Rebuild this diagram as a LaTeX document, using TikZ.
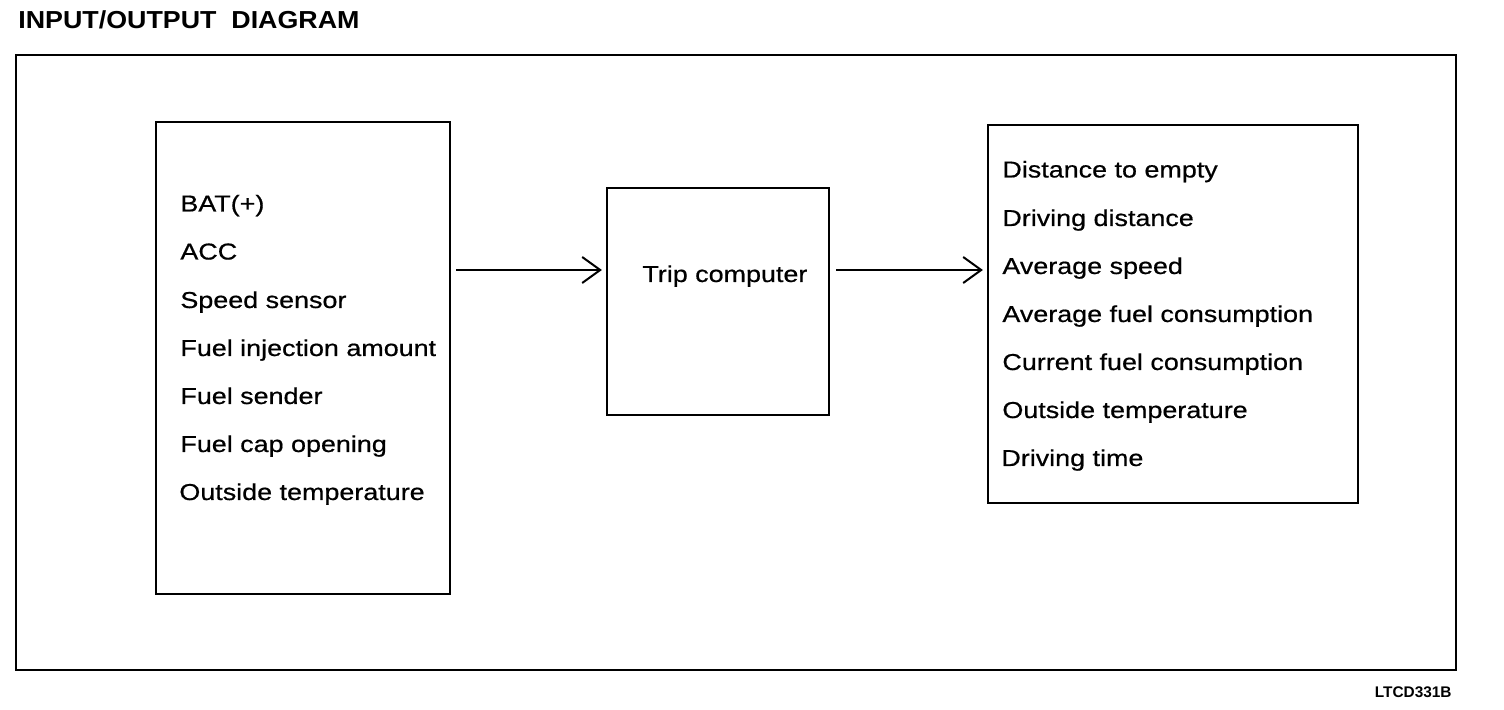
\documentclass[tikz,border=0pt]{standalone}
\usepackage{fontspec}
\setmainfont[FakeStretch=1.17,FakeBold=0.6]{Liberation Sans}
\newfontfamily\plainsans{Liberation Sans}
\newfontfamily\titlesans[FakeStretch=1.09]{Liberation Sans}
\usetikzlibrary{arrows.meta}
\begin{document}
\begin{tikzpicture}[x=0.5pt,y=-0.5pt,
  frame/.style={draw, line width=1.1pt, inner sep=0pt},
  lbl/.style={anchor=base west, inner sep=0pt, font=\fontsize{11.5pt}{13pt}\selectfont},
  arr/.style={line width=1pt, -{Straight Barb[length=9pt,width=13pt,line width=1pt]}}]
\useasboundingbox (0,0) rectangle (1504,710);
\node[anchor=base west, inner sep=0pt, font=\titlesans\fontsize{12.3pt}{14pt}\selectfont\bfseries] (title) at (18,29) {INPUT/OUTPUT\ \ DIAGRAM};
\node[frame, minimum width=720pt, minimum height=307.5pt] (outer) at (736,362.5) {};
\node[frame, minimum width=147pt, minimum height=236pt] (inbox) at (303,358) {};
\node[frame, minimum width=111pt, minimum height=113.5pt] (mid) at (718,301.5) {};
\node[frame, minimum width=185pt, minimum height=189pt] (outbox) at (1173,314) {};
% input list
\node[lbl] (i1) at (180,211.5) {BAT(+)};
\node[lbl] (i2) at (180,259.5) {ACC};
\node[lbl] (i3) at (180,308) {Speed sensor};
\node[lbl] (i4) at (180,356) {Fuel injection amount};
\node[lbl] (i5) at (180,404) {Fuel sender};
\node[lbl] (i6) at (180,452) {Fuel cap opening};
\node[lbl] (i7) at (179,500) {Outside temperature};
% centre
\node[lbl] (tc) at (642,282) {Trip computer};
% output list
\node[lbl] (o1) at (1002,177.5) {Distance to empty};
\node[lbl] (o2) at (1002,226) {Driving distance};
\node[lbl] (o3) at (1002,274) {Average speed};
\node[lbl] (o4) at (1002,322) {Average fuel consumption};
\node[lbl] (o5) at (1002,370) {Current fuel consumption};
\node[lbl] (o6) at (1002,418) {Outside temperature};
\node[lbl] (o7) at (1001,466) {Driving time};
% connectors
\coordinate (ay) at (0,270);
\draw[arr, shorten <=2.5pt, shorten >=2pt] (inbox.east |- ay) -- (mid.west |- ay);
\draw[arr, shorten <=3pt, shorten >=2pt] (mid.east |- ay) -- (outbox.west |- ay);
\node[anchor=base east, inner sep=0pt, font=\plainsans\fontsize{7.7pt}{9pt}\selectfont\bfseries] (code) at (1452,697) {LTCD331B};
\end{tikzpicture}
\end{document}
